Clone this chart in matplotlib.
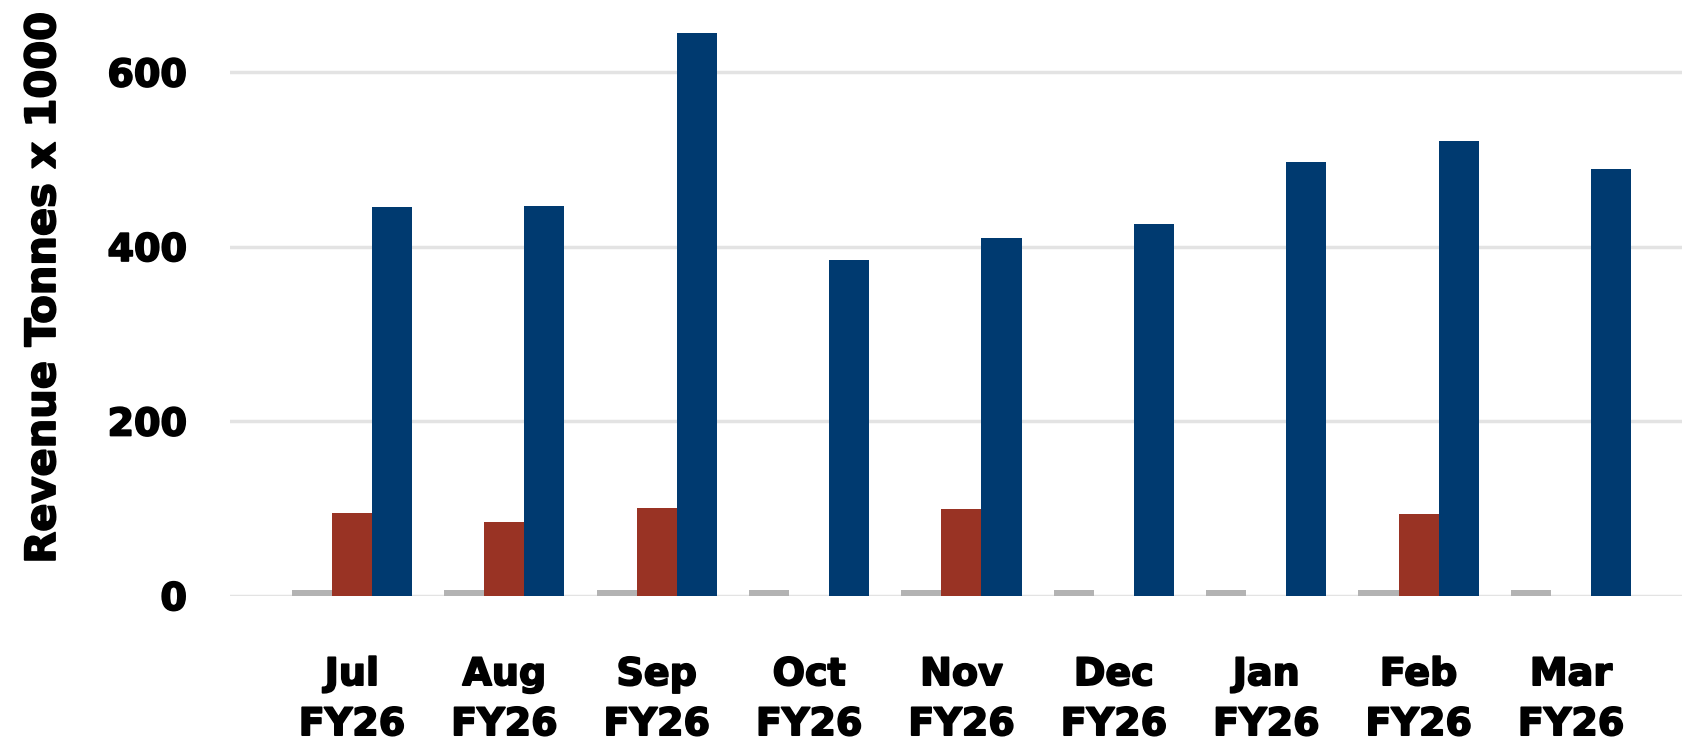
import numpy as np
import matplotlib
matplotlib.use('Agg')
from matplotlib import pyplot as plt
from matplotlib import patheffects as pe

# 数据
months = ['Jul\nFY26', 'Aug\nFY26', 'Sep\nFY26', 'Oct\nFY26', 'Nov\nFY26',
          'Dec\nFY26', 'Jan\nFY26', 'Feb\nFY26', 'Mar\nFY26']
grey_vals = [7, 7, 7, 7, 7, 7, 7, 7, 7]
red_vals = [95, 85, 101, 0, 100, 0, 0, 94, 0]
blue_vals = [446, 447, 645, 385, 410, 426, 497, 521, 489]
y_ticks = [0, 200, 400, 600]

plt.rcParams['font.family'] = ['DejaVu Sans']
plt.rcParams['font.weight'] = 'bold'

# 加粗效果 (模拟 Arial Black)
heavy = [pe.withStroke(linewidth=1.3, foreground='black')]

fig = plt.figure(figsize=(16.83, 7.5), dpi=100)
ax = fig.add_axes([230 / 1683, 154 / 750, 1 - 230 / 1683, 1 - 154 / 750])

x = np.arange(len(months))
w = 0.263
ax.bar(x - w, grey_vals, w, color='#b3b3b3', zorder=3)
ax.bar(x, red_vals, w, color='#993324', zorder=3)
ax.bar(x + w, blue_vals, w, color='#003a70', zorder=3)

ax.set_xlim(-0.80, 8.735)
ax.set_ylim(0, 683)
ax.set_yticks(y_ticks)
ax.yaxis.grid(True, color='#e3e3e3', linewidth=2.5, zorder=0)
ax.set_axisbelow(True)
for s in ax.spines.values():
    s.set_visible(False)

ax.set_xticks(x)
ax.set_xticklabels(months, fontsize=27.4, fontweight='bold', linespacing=1.5)
ax.tick_params(axis='x', length=0, pad=44)
ax.tick_params(axis='y', length=0, pad=31, labelsize=27.4)
for t in ax.get_yticklabels() + ax.get_xticklabels():
    t.set_fontweight('bold')
    t.set_path_effects(heavy)

# 纵轴标题
fig.text(43 / 1683, 1 - 288 / 750, 'Revenue Tonnes x 1000', rotation=90,
         fontsize=29.9, fontweight='bold', ha='center', va='center',
         path_effects=heavy)

fig.savefig('out.png', dpi=100)
